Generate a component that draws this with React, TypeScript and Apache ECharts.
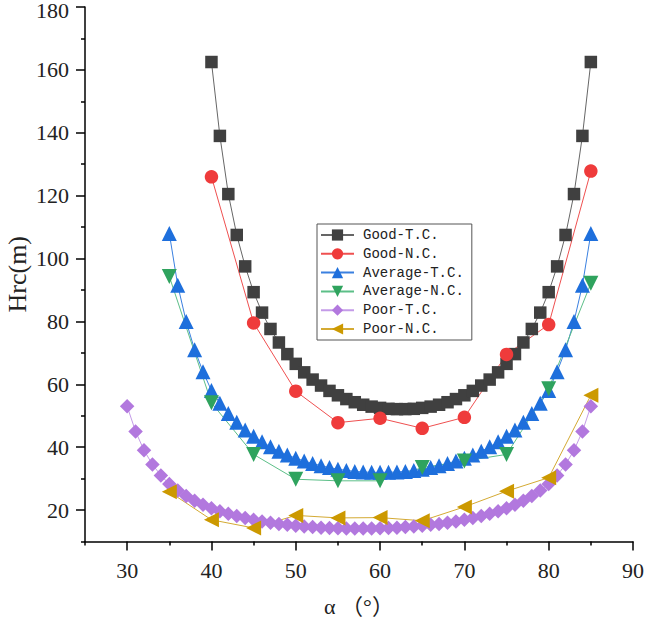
import React, { useEffect, useRef } from 'react';
import * as echarts from 'echarts';

// ---- data ----
const anglesGoodTC = [40, 41, 42, 43, 44, 45, 46, 47, 48, 49, 50, 51, 52, 53, 54, 55, 56, 57, 58, 59, 60, 61, 62, 63, 64, 65, 66, 67, 68, 69, 70, 71, 72, 73, 74, 75, 76, 77, 78, 79, 80, 81, 82, 83, 84, 85];
const goodTC = [162.5, 139, 120.5, 107.5, 97.5, 89.3, 82.8, 77.6, 73.3, 69.6, 66.5, 63.8, 61.5, 59.6, 57.9, 56.5, 55.3, 54.3, 53.5, 52.9, 52.5, 52.2, 52.1, 52.1, 52.2, 52.5, 52.9, 53.5, 54.3, 55.3, 56.5, 57.9, 59.6, 61.5, 63.8, 66.5, 69.6, 73.3, 77.6, 82.8, 89.3, 97.5, 107.5, 120.5, 139, 162.5];

const anglesNC = [40, 45, 50, 55, 60, 65, 70, 75, 80, 85];
const goodNC = [126, 79.5, 57.8, 47.8, 49.2, 46, 49.5, 69.5, 79, 127.8];

const anglesAvgTC = [35, 36, 37, 38, 39, 40, 41, 42, 43, 44, 45, 46, 47, 48, 49, 50, 51, 52, 53, 54, 55, 56, 57, 58, 59, 60, 61, 62, 63, 64, 65, 66, 67, 68, 69, 70, 71, 72, 73, 74, 75, 76, 77, 78, 79, 80, 81, 82, 83, 84, 85];
const avgTC = [108, 91.5, 80, 71, 64, 58, 54, 50.7, 47.9, 45.5, 43.5, 41.7, 40.1, 38.7, 37.5, 36.5, 35.6, 34.8, 34.1, 33.5, 33, 32.6, 32.3, 32.1, 32, 32, 32, 32.1, 32.3, 32.6, 33, 33.5, 34.1, 34.8, 35.6, 36.5, 37.5, 38.7, 40.1, 41.7, 43.5, 45.5, 47.9, 50.7, 54, 58, 64, 71, 80, 91.5, 108];

const anglesNC35 = [35, 40, 45, 50, 55, 60, 65, 70, 75, 80, 85];
const avgNC = [94.3, 54.1, 37.7, 29.8, 29.3, 29.3, 33.5, 35.6, 37.7, 58.6, 92.1];

const anglesPoorTC = [30, 31, 32, 33, 34, 35, 36, 37, 38, 39, 40, 41, 42, 43, 44, 45, 46, 47, 48, 49, 50, 51, 52, 53, 54, 55, 56, 57, 58, 59, 60, 61, 62, 63, 64, 65, 66, 67, 68, 69, 70, 71, 72, 73, 74, 75, 76, 77, 78, 79, 80, 81, 82, 83, 84, 85];
const poorTC = [53, 45, 39, 34.5, 31, 28.3, 26.2, 24.5, 23, 21.7, 20.6, 19.6, 18.8, 18.1, 17.5, 16.9, 16.4, 16, 15.6, 15.3, 15, 14.8, 14.6, 14.4, 14.3, 14.2, 14.1, 14.1, 14.1, 14.1, 14.2, 14.3, 14.4, 14.6, 14.8, 15, 15.3, 15.6, 16, 16.4, 16.9, 17.5, 18.1, 18.8, 19.6, 20.6, 21.7, 23, 24.5, 26.2, 28.3, 31, 34.5, 39, 45, 53];

const poorNC = [25.8, 16.9, 14.3, 18.3, 17.5, 17.6, 16.6, 21, 26, 30.3, 56.5];

const xMajorTicks = [30, 40, 50, 60, 70, 80, 90];
const xMinorTicks = [25, 35, 45, 55, 65, 75, 85];
const yMajorTicks = [20, 40, 60, 80, 100, 120, 140, 160, 180];
const yMinorTicks = [10, 30, 50, 70, 90, 110, 130, 150, 170];

const seriesNames = ['Good-T.C.', 'Good-N.C.', 'Average-T.C.', 'Average-N.C.', 'Poor-T.C.', 'Poor-N.C.'];

const pts = (xs: number[], ys: number[]) => xs.map((x, i) => [x, ys[i]]);

const SERIF = "'Liberation Serif', 'Noto Sans CJK SC', serif";

export default function App() {
  const ref = useRef<HTMLDivElement>(null);
  useEffect(() => {
    const chart = echarts.init(ref.current!, null, { renderer: 'svg' });
    const axisLineStyle = { color: '#000', width: 1.5 };
    const mkSeries = (name: string, data: number[][], symbol: string, size: number, rotate: number, mColor: string, lColor: string) => ({
      name,
      type: 'line',
      data,
      symbol,
      symbolSize: size,
      symbolRotate: rotate,
      itemStyle: { color: mColor },
      lineStyle: { color: lColor, width: 1 },
      xAxisIndex: 0,
      yAxisIndex: 0,
    });
    const yMax = yMajorTicks[yMajorTicks.length - 1];
    chart.setOption({
      animation: false,
      backgroundColor: '#fff',
      grid: { left: 85, right: 12, top: 7, bottom: 79.5, containLabel: false, outerBoundsMode: 'none' },
      legend: {
        left: 317,
        top: 224,
        orient: 'vertical',
        data: seriesNames,
        itemWidth: 33,
        itemHeight: 14,
        itemGap: 4.8,
        padding: [4, 8, 4, 3],
        borderColor: '#555',
        borderWidth: 1,
        textStyle: { fontFamily: "'Liberation Mono', monospace", fontSize: 14, color: '#222', padding: [0, 0, 0, 4] },
      },
      xAxis: [
        {
          type: 'value', min: 25, max: 90, position: 'bottom',
          axisLine: { show: true, onZero: false, lineStyle: axisLineStyle },
          axisTick: { show: true, customValues: xMajorTicks, length: 9, lineStyle: axisLineStyle },
          axisLabel: { customValues: xMajorTicks, fontFamily: SERIF, fontSize: 22, color: '#222', margin: 18 },
          splitLine: { show: false },
          name: 'α （°）', nameLocation: 'middle', nameGap: 54, nameMoveOverlap: false,
          nameTextStyle: { fontFamily: SERIF, fontSize: 22, color: '#222' },
        },
        {
          type: 'value', min: 25, max: 90, position: 'bottom', offset: 0,
          axisLine: { show: false, onZero: false },
          axisTick: { show: true, customValues: xMinorTicks, length: 4, lineStyle: axisLineStyle },
          axisLabel: { show: false },
          splitLine: { show: false },
        },
      ],
      yAxis: [
        {
          type: 'value', min: 10, max: 180, position: 'left',
          axisLine: { show: true, onZero: false, lineStyle: axisLineStyle },
          axisTick: { show: true, customValues: yMajorTicks, length: 9, lineStyle: axisLineStyle },
          axisLabel: {
            customValues: yMajorTicks, fontFamily: SERIF, fontSize: 22, lineHeight: 14, color: '#222', margin: 16,
            formatter: (v: number) => (v === yMax ? `{top|${v}}` : `${v}`),
            rich: { top: { fontFamily: SERIF, fontSize: 22, lineHeight: 14, color: '#222', padding: [7, 0, 0, 0] } },
          },
          splitLine: { show: false },
          name: 'Hrc(m)', nameLocation: 'middle', nameRotate: 90, nameGap: 55, nameMoveOverlap: false,
          nameTextStyle: { fontFamily: SERIF, fontSize: 26, color: '#222' },
        },
        {
          type: 'value', min: 10, max: 180, position: 'left', offset: 0,
          axisLine: { show: false, onZero: false },
          axisTick: { show: true, customValues: yMinorTicks, length: 4, lineStyle: axisLineStyle },
          axisLabel: { show: false },
          splitLine: { show: false },
        },
      ],
      series: [
        mkSeries(seriesNames[0], pts(anglesGoodTC, goodTC), 'rect', 12.5, 0, '#404040', '#666666'),
        mkSeries(seriesNames[1], pts(anglesNC, goodNC), 'circle', 13.5, 0, '#ef3b3b', '#ef5050'),
        mkSeries(seriesNames[2], pts(anglesAvgTC, avgTC), 'triangle', 15, 0, '#1e6fdc', '#3a80e0'),
        mkSeries(seriesNames[3], pts(anglesNC35, avgNC), 'triangle', 15, 180, '#2fa35e', '#5cbf88'),
        mkSeries(seriesNames[4], pts(anglesPoorTC, poorTC), 'diamond', 14.5, 0, '#b278de', '#c49be8'),
        mkSeries(seriesNames[5], pts(anglesNC35, poorNC), 'triangle', 15, 90, '#cc9900', '#d4aa33'),
      ],
    });
    return () => chart.dispose();
  }, []);
  return <div ref={ref} style={{ position: 'absolute', left: 0, top: 0, width: 645, height: 621 }} />;
}
